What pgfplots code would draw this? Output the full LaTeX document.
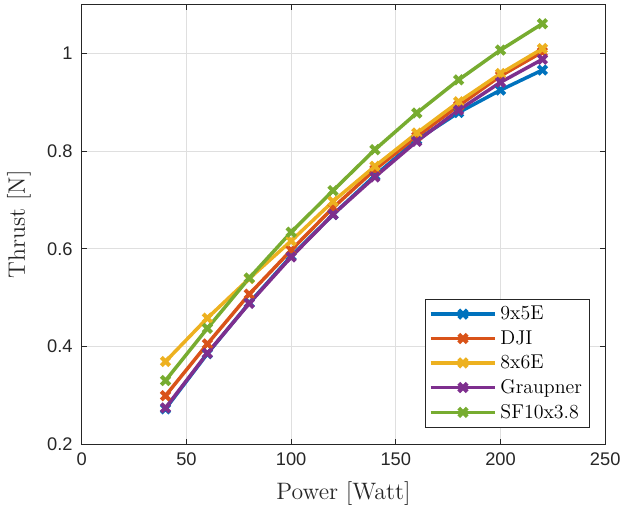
\documentclass[border=0pt]{standalone}
\usepackage{fontspec}
\usepackage{pgfplots}
\pgfplotsset{compat=1.18}
\newfontfamily\ticksans{Liberation Sans}
\definecolor{mblue}{rgb}{0,0.447,0.741}
\definecolor{morange}{rgb}{0.85,0.325,0.098}
\definecolor{myellow}{rgb}{0.929,0.694,0.125}
\definecolor{mpurple}{rgb}{0.494,0.184,0.556}
\definecolor{mgreen}{rgb}{0.466,0.674,0.188}
\definecolor{axgray}{rgb}{0.15,0.15,0.15}
\begin{document}
\begin{tikzpicture}
\begin{axis}[
  name=ax,
  scale only axis,
  width=315pt, height=264.4pt,
  xmin=0, xmax=250, ymin=0.2, ymax=1.1,
  xtick={0,50,100,150,200,250},
  ytick={0.2,0.4,0.6,0.8,1},
  tick align=inside,
  major tick length=3pt,
  axis line style={axgray, line width=0.5pt},
  tick style={axgray, line width=0.5pt},
  grid=major,
  major grid style={gray!25, line width=0.5pt},
  /pgf/number format/assume math mode=true,
  ticklabel style={font=\ticksans\fontsize{11}{13}\selectfont, text=axgray},
  yticklabel style={xshift=-2pt},
  xticklabel style={yshift=-2pt},
  xlabel={Power [Watt]},
  ylabel={Thrust [N]},
  every axis x label/.style={at={(axis description cs:0.5,-0.1135)}, anchor=center, font=\fontsize{14.3}{16}\selectfont, text=axgray},
  every axis y label/.style={at={(axis description cs:-0.12,0.5)}, anchor=center, rotate=90, font=\fontsize{14.3}{16}\selectfont, text=axgray},
  legend style={at={(axis description cs:0.97,0.036)}, anchor=south east,
    font=\fontsize{12}{14}\selectfont, draw=axgray, line width=0.5pt,
    row sep=1pt, inner sep=2.3pt, cells={anchor=west}},
  legend image code/.code={\draw[mark repeat=2, mark phase=2, #1] plot coordinates {(0pt,0pt) (19.5pt,0pt) (39pt,0pt)};},
  every axis plot/.append style={line width=2.1pt, mark=x, mark size=3.6pt, mark options={solid, line width=2.4pt}},
]
\addplot[mblue] coordinates {(40,0.272) (60,0.385) (80,0.489) (100,0.585) (120,0.670) (140,0.750) (160,0.823) (180,0.879) (200,0.925) (220,0.966)};
\addlegendentry{9x5E}
\addplot[morange] coordinates {(40,0.299) (60,0.405) (80,0.507) (100,0.597) (120,0.684) (140,0.762) (160,0.830) (180,0.893) (200,0.954) (220,1.003)};
\addlegendentry{DJI}
\addplot[myellow] coordinates {(40,0.369) (60,0.458) (80,0.539) (100,0.616) (120,0.697) (140,0.769) (160,0.837) (180,0.901) (200,0.959) (220,1.010)};
\addlegendentry{8x6E}
\addplot[mpurple] coordinates {(40,0.274) (60,0.386) (80,0.488) (100,0.583) (120,0.670) (140,0.747) (160,0.820) (180,0.884) (200,0.941) (220,0.988)};
\addlegendentry{Graupner}
\addplot[mgreen] coordinates {(40,0.330) (60,0.437) (80,0.540) (100,0.634) (120,0.719) (140,0.803) (160,0.878) (180,0.946) (200,1.007) (220,1.061)};
\addlegendentry{SF10x3.8}
\end{axis}
\path ([shift={(-49.2pt,-41.4pt)}]ax.south west) rectangle ([shift={(11.4pt,2.8pt)}]ax.north east);
\end{tikzpicture}
\end{document}
